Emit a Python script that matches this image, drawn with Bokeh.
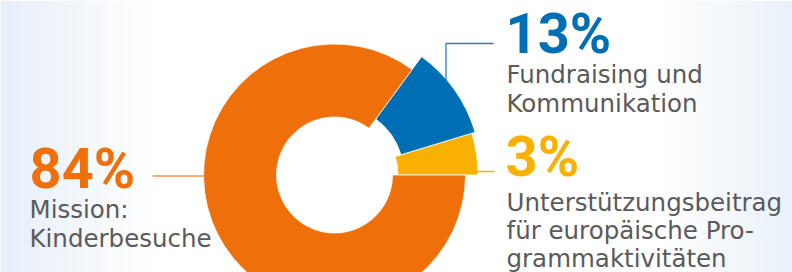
import numpy as np
from bokeh.plotting import figure
from bokeh.models import Range1d
from bokeh.core.properties import value
from bokeh.embed import file_html
from bokeh.resources import INLINE

# ---------------- data ----------------
categories = ["Mission: Kinderbesuche", "Fundraising und Kommunikation",
              "Unterstützungsbeitrag für europäische Programmaktivitäten"]
pct_labels = ["84%", "13%", "3%"]
# slice shares as drawn in the picture (percent of the full circle)
drawn_share = [85.1, 10.2, 4.7]
desc_lines = [["Mission:", "Kinderbesuche"],
              ["Fundraising und", "Kommunikation"],
              ["Unterstützungsbeitrag", "für europäische Pro-", "grammaktivitäten"]]

# ---------------- style ----------------
colors = ["#EF700B", "#006EB5", "#F9B000"]
leader_colors = ["#F2914A", "#2A7DC0", "#F9B000"]
inner_r = [58, 69.5, 63.5]
outer_r = [131, 147, 143.5]
text_gray = "#5A5A5A"
W, H = 792, 272
PCT_FONT = "Roboto"
BODY_FONT = "DejaVu Sans"
PCT_SIZE, BODY_SIZE = 56, 24.5
PCT_SHIFT, BODY_SHIFT = 19, 9   # renderer baseline correction (px)

def Y(y):  # reference pixel row -> data y
    return H - y

p = figure(width=W, height=H, output_backend="svg", toolbar_location=None,
           x_range=Range1d(0, W), y_range=Range1d(0, H),
           min_border=0, outline_line_color=None)
p.axis.visible = False
p.grid.visible = False
p.background_fill_color = "white"
p.border_fill_color = "white"

# background gradient
xs = np.arange(W)
edge_l = np.array([231, 239, 249], float)
edge_r = np.array([233, 241, 250], float)
white = np.array([255, 255, 255], float)
img = np.zeros((1, W), dtype=np.uint32)
view = img.view(dtype=np.uint8).reshape((1, W, 4))
for i, x in enumerate(xs):
    if x < 150:
        t = (150 - x) / 150.0
        c = white + (edge_l - white) * t
    elif x > 660:
        t = (x - 660) / (W - 660)
        c = white + (edge_r - white) * t
    else:
        c = white
    view[0, i, 0:3] = c.astype(np.uint8)
    view[0, i, 3] = 255
p.image_rgba(image=[img], x=0, y=0, dw=W, dh=H)

# donut
cx, cy = 334, Y(174.5)
order = [2, 1, 0]  # counter-clockwise from 3 o'clock: yellow, blue, orange
start = 0.0
for k in order:
    ang = drawn_share[k] / 100.0 * 2 * np.pi
    p.annular_wedge(x=cx, y=cy, inner_radius=inner_r[k], outer_radius=outer_r[k],
                    start_angle=start, end_angle=start + ang,
                    fill_color=colors[k], line_color="white", line_width=0.8)
    start += ang

# leader lines
p.line(x=[152, 205], y=[Y(175.5), Y(175.5)], line_color=leader_colors[0], line_width=1.6)
p.line(x=[445.5, 445.5, 493], y=[Y(82), Y(43), Y(43)], line_color=leader_colors[1], line_width=1.3)
p.line(x=[476, 494], y=[Y(171), Y(171)], line_color=leader_colors[2], line_width=1.6)

# percentage labels
pct_pos = [(29, 187), (505, 52), (505, 175)]
for k in range(3):
    x, y = pct_pos[k]
    p.text(x=[x], y=[Y(y - PCT_SHIFT)], text=[pct_labels[k]], text_color=colors[k],
           text_font=value(PCT_FONT), text_font_style="bold",
           text_font_size=f"{PCT_SIZE}px",
           text_baseline="alphabetic", text_align="left")

# description labels
desc_pos = [(29, [218, 247]), (506, [83, 112]), (506, [211, 239, 267])]
for k in range(3):
    x, ys = desc_pos[k]
    for line, y in zip(desc_lines[k], ys):
        p.text(x=[x], y=[Y(y - BODY_SHIFT)], text=[line], text_color=text_gray,
               text_font=value(BODY_FONT), text_font_size=f"{BODY_SIZE}px",
               text_baseline="alphabetic", text_align="left")

open("out.html", "w").write(file_html(p, INLINE))
